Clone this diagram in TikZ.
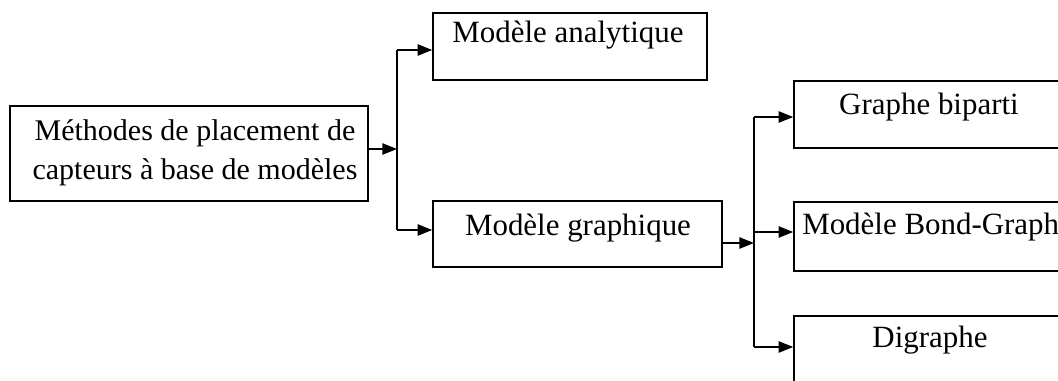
\documentclass[tikz,border=0pt]{standalone}
\usepackage{fontspec}
\setmainfont{Liberation Serif}
\usetikzlibrary{arrows.meta}
\begin{document}
\begin{tikzpicture}[x=0.75pt,y=-0.75pt,
  box/.style={draw, line width=1.1pt, rectangle, inner sep=0pt},
  lbl/.style={inner sep=0pt, font=\fontsize{23.2}{29.25}\selectfont, align=center},
  conn/.style={line width=1.1pt},
  arr/.style={line width=1.1pt, -{Triangle[length=11pt,width=8.5pt]}}]
\useasboundingbox (0,0) rectangle (1058,381);
\clip (0,0) rectangle (1058,381);
% boxes
\node[box, minimum width=358*0.75pt, minimum height=95*0.75pt] (meth) at (189,153.5) {};
\node[box, minimum width=274*0.75pt, minimum height=67*0.75pt] (ana) at (570,46.5) {};
\node[box, minimum width=289*0.75pt, minimum height=66*0.75pt] (gra) at (577.5,234) {};
\node[box, minimum width=306*0.75pt, minimum height=67*0.75pt] (bip) at (947,114.5) {};
\node[box, minimum width=306*0.75pt, minimum height=69*0.75pt] (bond) at (947,236.5) {};
\node[box, minimum width=306*0.75pt, minimum height=104*0.75pt] (dig) at (947,368) {};
% labels
\node[lbl, font=\fontsize{22.5}{29.25}\selectfont] (tmeth) at (195,153) {Méthodes de placement de\\capteurs à base de modèles};
\node[lbl] (tana) at (568,35) {Modèle analytique};
\node[lbl] (tgra) at (578,228) {Modèle graphique};
\node[lbl] (tbip) at (929,107) {Graphe biparti};
\node[lbl, anchor=west] (tbond) at (802,227) {Modèle Bond-Graph};
\node[lbl] (tdig) at (930,340) {Digraphe};
% junction 1
\coordinate (j1t) at (397,50);
\coordinate (j1m) at (397,149);
\coordinate (j1b) at (397,230);
\draw[conn] (j1t) -- (j1b);
\draw[arr] (meth.east |- j1m) -- (j1m);
\draw[arr] (j1t) -- (ana.west |- j1t);
\draw[arr] (j1b) -- (gra.west |- j1b);
% junction 2
\coordinate (j2t) at (754,117);
\coordinate (j2m) at (754,243);
\coordinate (j2c) at (754,232);
\coordinate (j2b) at (754,347);
\draw[conn] (j2t) -- (j2b);
\draw[arr] (gra.east |- j2m) -- (j2m);
\draw[arr] (j2t) -- (bip.west |- j2t);
\draw[arr] (j2c) -- (bond.west |- j2c);
\draw[arr] (j2b) -- (dig.west |- j2b);
\end{tikzpicture}
\end{document}
